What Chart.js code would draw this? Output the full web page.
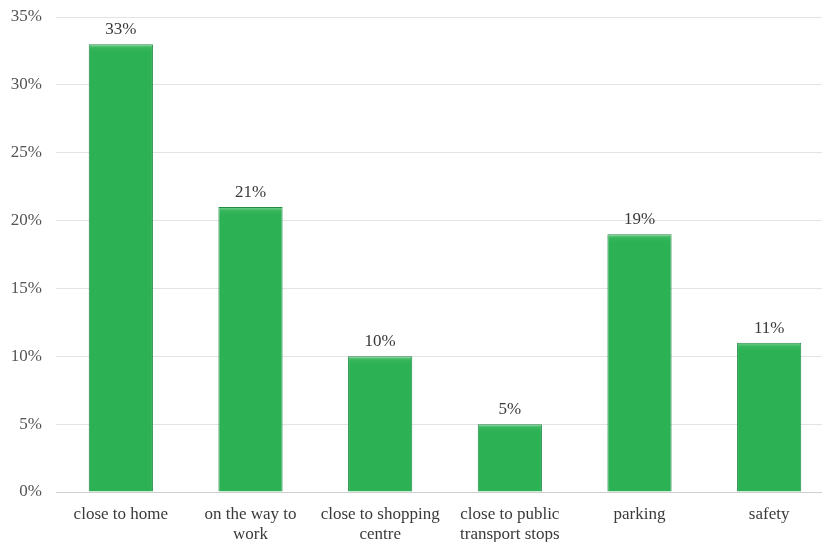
<!DOCTYPE html>
<html>
<head>
<meta charset="utf-8">
<script src="https://cdn.jsdelivr.net/npm/chart.js@4.4.1/dist/chart.umd.min.js"></script>
<style>
  html, body { margin: 0; padding: 0; background: #fff; overflow: hidden; }
  #wrap { width: 834px; height: 542px; position: relative; }
</style>
</head>
<body>
<div id="wrap"><canvas id="chart"></canvas></div>
<script>
/* Reasons for choosing a location, share of answers */
const categories = [
  'close to home',
  ['on the way to', 'work'],
  ['close to shopping', 'centre'],
  ['close to public', 'transport stops'],
  'parking',
  'safety'
];
const shares = [33, 21, 10, 5, 19, 11];
const yTicks = [0, 5, 10, 15, 20, 25, 30, 35];

const FONT = '"Liberation Serif", "Times New Roman", serif';

function barFill(ctx) {
  const chart = ctx.chart;
  const area = chart.chartArea;
  if (!area) return '#2db155';
  const top = chart.scales.y.getPixelForValue(ctx.raw);
  const g = chart.ctx.createLinearGradient(0, top, 0, top + 8);
  g.addColorStop(0, '#7fd296');
  g.addColorStop(0.45, '#37b75d');
  g.addColorStop(1, '#2db155');
  return g;
}

// value labels above each bar
const valueLabels = {
  id: 'valueLabels',
  afterDatasetsDraw(chart) {
    const { ctx } = chart;
    const meta = chart.getDatasetMeta(0);
    ctx.save();
    ctx.font = '17px ' + FONT;
    ctx.fillStyle = '#3a3a3a';
    ctx.textAlign = 'center';
    ctx.textBaseline = 'bottom';
    meta.data.forEach((bar, i) => {
      ctx.fillText(shares[i] + '%', bar.x, bar.y - 6);
    });
    ctx.restore();
  }
};

new Chart(document.getElementById('chart'), {
  type: 'bar',
  data: {
    labels: categories,
    datasets: [{
      data: shares,
      backgroundColor: barFill,
      borderColor: '#1f8a44',
      borderWidth: 1,
      borderSkipped: 'bottom',
      barPercentage: 0.495,
      categoryPercentage: 1
    }]
  },
  options: {
    responsive: true,
    maintainAspectRatio: false,
    animation: false,
    layout: { padding: { top: 17, left: 0, right: 0, bottom: 0 } },
    plugins: { legend: { display: false }, tooltip: { enabled: false } },
    scales: {
      x: {
        grid: { display: false },
        border: { color: '#cfcfcf' },
        ticks: {
          color: '#3a3a3a',
          font: { family: FONT, size: 17, lineHeight: 1.15 },
          maxRotation: 0,
          autoSkip: false,
          padding: 5
        },
        afterFit(scale) {
          scale.height = 50;
          scale.paddingLeft = 0;
          scale.paddingRight = 0;
        }
      },
      y: {
        min: 0,
        max: 35,
        afterBuildTicks(scale) { scale.ticks = yTicks.map(v => ({ value: v })); },
        grid: { color: '#e3e3e3', drawTicks: false },
        border: { display: false },
        ticks: {
          color: '#555',
          font: { family: FONT, size: 17 },
          padding: 14,
          callback: v => v + '%'
        },
        afterFit(scale) {
          scale.width = 56;
          scale.paddingTop = 0;
          scale.paddingBottom = 0;
        }
      }
    }
  },
  plugins: [valueLabels]
});
</script>
</body>
</html>
